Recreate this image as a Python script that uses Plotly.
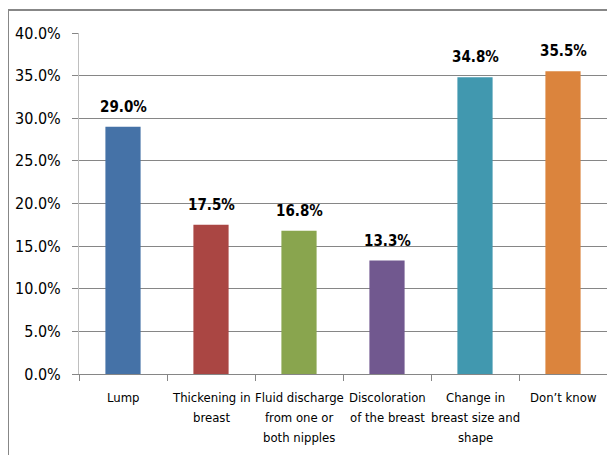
import plotly.graph_objects as go

categories = ["Lump", "Thickening in<br>breast", "Fluid discharge<br>from one or<br>both nipples",
              "Discoloration<br>of the breast", "Change in<br>breast size and<br>shape", "Don\u2019t know"]
values = [29.0, 17.5, 16.8, 13.3, 34.8, 35.5]
colors = ["#4572A7", "#AA4643", "#89A54E", "#71588F", "#4198AF", "#DB843D"]
yticks = [0, 5, 10, 15, 20, 25, 30, 35, 40]
yticklabels = [f"{v:.1f}%" for v in yticks]

font_family = "DejaVu Sans Condensed, Liberation Sans Narrow, sans-serif"

fig = go.Figure(go.Bar(
    x=categories, y=values,
    marker=dict(color=colors, line=dict(width=0)),
    cliponaxis=False,
))

annotations = []
for c, v in zip(categories, values):
    annotations.append(dict(x=c, y=v, xref="x", yref="y", text=f"<b>{v:.1f}%</b>",
                            showarrow=False, yanchor="middle", yshift=20,
                            font=dict(size=15, color="black", family=font_family)))
    for i, line in enumerate(c.split("<br>")):
        annotations.append(dict(x=c, y=0, xref="x", yref="y", text=line,
                                showarrow=False, yanchor="middle", yshift=-23 - 20 * i,
                                font=dict(size=13, color="black", family=font_family)))

x_left = -71 / 528
x_right = 605 / 528
y_top = 1 + 23 / 341
y_bot = -120 / 341

fig.update_layout(
    width=615, height=455,
    margin=dict(l=71, r=16, t=25, b=89, autoexpand=False),
    paper_bgcolor="white", plot_bgcolor="white",
    bargap=0.6,
    showlegend=False,
    font=dict(family=font_family, color="black"),
    annotations=annotations,
    shapes=[dict(type="path", xref="paper", yref="paper",
                 path=f"M {x_left} {y_bot} L {x_left} {y_top} L {x_right} {y_top}",
                 line=dict(color="#878787", width=2), layer="below")],
)
fig.update_xaxes(
    showline=True, linecolor="#868686", linewidth=1,
    ticks="outside", tickson="boundaries", ticklen=6, tickcolor="#868686",
    showticklabels=False, automargin=False,
    showgrid=False,
)
fig.update_yaxes(
    range=[0, 40], tickvals=yticks, ticktext=yticklabels,
    showline=True, linecolor="#BFBFBF", linewidth=1,
    ticks="outside", ticklen=6, tickcolor="#868686",
    showgrid=True, gridcolor="#868686", gridwidth=1,
    tickfont=dict(size=16, family=font_family),
    ticklabelstandoff=8, automargin=False,
    zeroline=False,
)

fig.write_html("out.html")
